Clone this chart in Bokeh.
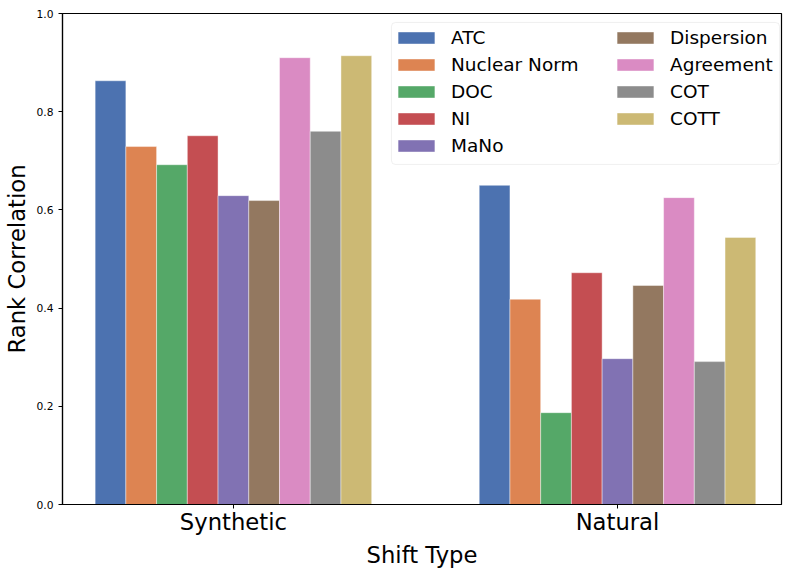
from bokeh.plotting import figure
from bokeh.models import (FixedTicker, Range1d, ColumnDataSource, PrintfTickFormatter,
                          Legend, LegendItem, BoxAnnotation)
from bokeh.embed import file_html
from bokeh.resources import INLINE

groups = ["Synthetic", "Natural"]
methods = ["ATC", "Nuclear Norm", "DOC", "NI", "MaNo", "Dispersion", "Agreement", "COT", "COTT"]
synthetic = [0.863, 0.729, 0.692, 0.751, 0.629, 0.619, 0.910, 0.760, 0.914]
natural = [0.650, 0.418, 0.187, 0.472, 0.297, 0.446, 0.625, 0.291, 0.544]
colors = ["#4C72B0", "#DD8452", "#55A868", "#C44E52", "#8172B3",
          "#937860", "#DA8BC3", "#8C8C8C", "#CCB974"]
y_ticks = [0.0, 0.2, 0.4, 0.6, 0.8, 1.0]

bar_w = 0.08
FONT = "DejaVu Sans"

p = figure(width=797, height=578, output_backend="svg", toolbar_location=None,
           x_range=Range1d(-0.445, 1.427), y_range=Range1d(0, 1.0),
           min_border_left=62, min_border_right=16, min_border_top=13, min_border_bottom=74)

renderers = []
for i, (m, c) in enumerate(zip(methods, colors)):
    xs = [g + (i - 4) * bar_w for g in range(len(groups))]
    src = ColumnDataSource(dict(x=xs, top=[synthetic[i], natural[i]]))
    r = p.vbar(x="x", top="top", width=bar_w, bottom=0, source=src,
               fill_color=c, line_color="white", line_width=0.6, line_alpha=0.7)
    renderers.append(r)

p.xgrid.visible = False
p.ygrid.visible = False
p.outline_line_color = "black"
p.outline_line_width = 1.2

p.xaxis.ticker = FixedTicker(ticks=[0, 1])
p.xaxis.major_label_overrides = {0: groups[0], 1: groups[1]}
p.yaxis.ticker = FixedTicker(ticks=y_ticks)
p.yaxis.formatter = PrintfTickFormatter(format="%.1f")

for ax in (p.xaxis, p.yaxis):
    ax.axis_line_color = "black"
    ax.axis_line_width = 1.2
    ax.major_tick_line_color = "black"
    ax.major_tick_out = 4
    ax.major_tick_in = 0
    ax.minor_tick_line_color = None
    ax.major_label_text_font = FONT
    ax.axis_label_text_font = FONT
    ax.axis_label_text_font_style = "normal"
    ax.axis_label_text_color = "black"
    ax.major_label_text_color = "black"

p.xaxis.axis_label = "Shift Type"
p.yaxis.axis_label = "Rank Correlation"
p.xaxis.major_label_text_font_size = "22.7px"
p.yaxis.major_label_text_font_size = "10.7px"
p.xaxis.axis_label_text_font_size = "22.7px"
p.yaxis.axis_label_text_font_size = "22.7px"
p.yaxis.major_label_standoff = 5
p.xaxis.major_label_standoff = 0
p.yaxis.axis_label_standoff = 4
p.xaxis.axis_label_standoff = 4

# legend frame (matplotlib-style box)
box = BoxAnnotation(left=0.4115, right=1.4219, bottom=0.6925, top=0.9817,
                    fill_color="white", fill_alpha=0.8,
                    line_color="#cccccc", line_width=1, border_radius=4)
p.add_layout(box)

def make_legend(idx, loc):
    lg = Legend(items=[LegendItem(label=methods[i], renderers=[renderers[i]]) for i in idx],
                location=loc)
    lg.label_text_font = FONT
    lg.label_text_font_size = "18.5px"
    lg.label_text_color = "black"
    lg.glyph_width = 46
    lg.glyph_height = 15
    lg.label_standoff = 12
    lg.spacing = 6
    lg.padding = 0
    lg.margin = 0
    lg.border_line_color = None
    lg.background_fill_alpha = 0
    return lg

p.add_layout(make_legend([0, 1, 2, 3, 4], (331, 348)))
p.add_layout(make_legend([5, 6, 7, 8], (550, 375)))

open("out.html", "w").write(file_html(p, INLINE))
